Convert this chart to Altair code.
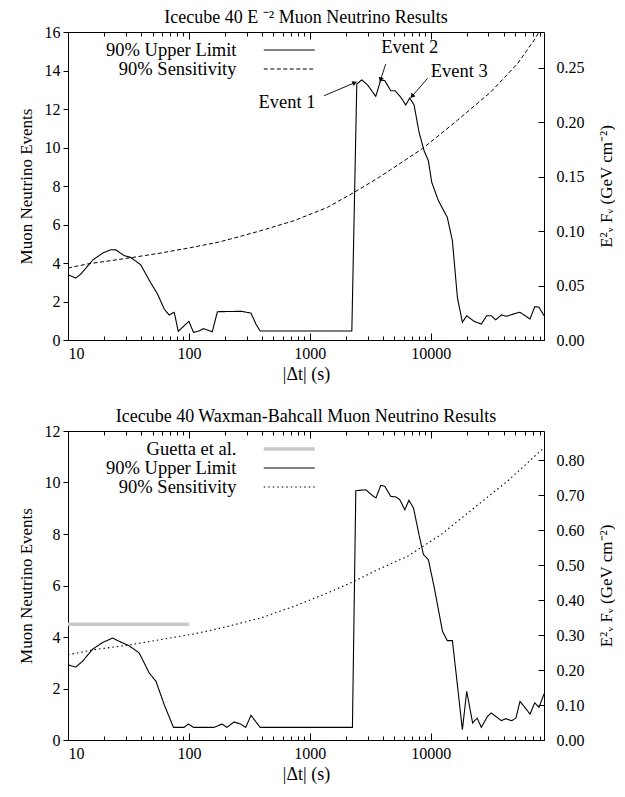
import altair as alt
import pandas as pd

FONT = "Liberation Serif"

# ---------------- data ----------------
MAJOR = [10, 100, 1000, 10000]
MINOR = [20, 30, 40, 50, 60, 70, 80, 90, 200, 300, 400, 500, 600, 700, 800, 900,
         2000, 3000, 4000, 5000, 6000, 7000, 8000, 9000, 20000, 30000, 40000, 50000,
         60000, 70000, 80000]

top_ul_t = [10, 11.6, 12.8, 16, 19.4, 22.6, 24.9, 29.2, 33, 40, 48, 55, 62.5, 68.6, 75.6, 81.6,
            100, 109, 119, 132, 156, 172, 270, 326, 358, 388, 2225, 2445, 2690, 3000, 3510,
            3860, 4170, 4670, 5070, 5650, 6210, 6700, 7280, 8000, 8810, 9560, 10190, 11570,
            13700, 15100, 16600, 18260, 19830, 22800, 26200, 29000, 31700, 34400, 38400,
            42400, 48200, 54700, 66200, 72400, 78600, 86400]
top_ul_v = [3.39, 3.22, 3.43, 4.15, 4.52, 4.69, 4.68, 4.38, 4.29, 3.9, 3.0, 2.39, 1.61, 1.30,
            1.44, 0.45, 0.97, 0.40, 0.45, 0.59, 0.43, 1.47, 1.49, 1.40, 0.83, 0.47, 0.47,
            13.30, 13.51, 13.25, 12.66, 13.51, 13.47, 12.95, 12.95, 12.61, 12.21, 12.57,
            12.21, 10.79, 9.83, 9.31, 8.19, 7.24, 6.37, 5.16, 2.22, 0.92, 1.26, 0.97, 0.83,
            1.26, 1.26, 1.05, 1.30, 1.23, 1.35, 1.44, 1.09, 1.73, 1.70, 1.26]

top_sens_t = [10, 14.5, 32, 58.7, 100, 172, 269, 394, 742, 1400, 2323, 3630, 4670, 8530,
              16600, 31300, 52100, 71500, 78600]
top_sens_v = [3.74, 3.95, 4.26, 4.52, 4.78, 5.07, 5.39, 5.68, 6.20, 6.89, 7.67, 8.40, 8.85,
              9.94, 11.41, 12.88, 14.35, 15.57, 16.0]

bot_ul_t = [10, 11.6, 13.2, 16, 19.4, 23.4, 26.5, 32, 38.8, 47, 53.4, 62.5, 74.5, 91, 99, 109,
            161, 188, 206, 236, 268, 295, 326, 388, 2250, 2400, 2900, 3300, 3520, 3860, 4170,
            4670, 5140, 5550, 6100, 6600, 7200, 8000, 8700, 9560, 10640, 12500, 13700, 15100,
            16600, 18260, 19830, 22200, 24200, 26200, 29500, 31700, 34400, 38400, 41700,
            46600, 50600, 54700, 66200, 72400, 78600, 86400]
bot_ul_v = [2.92, 2.83, 3.06, 3.53, 3.79, 3.96, 3.83, 3.66, 3.38, 2.60, 2.28, 1.37, 0.49, 0.49,
            0.62, 0.49, 0.49, 0.62, 0.49, 0.70, 0.62, 0.49, 0.96, 0.49, 0.49, 9.68, 9.72, 9.49,
            9.40, 9.89, 9.85, 9.46, 9.44, 9.33, 8.94, 9.31, 9.01, 7.97, 7.20, 7.00, 5.97, 4.22,
            3.86, 3.86, 2.15, 0.40, 1.89, 0.66, 0.85, 0.49, 0.92, 1.05, 0.92, 0.75, 0.83, 0.75,
            0.85, 1.50, 1.01, 1.44, 1.27, 1.79]

bot_sens_t = [10, 16.5, 31.1, 58.7, 111, 209, 394, 742, 1400, 2323, 3400, 6410, 12100, 22800,
              43000, 63000, 86400]
bot_sens_v = [3.31, 3.51, 3.68, 3.90, 4.12, 4.41, 4.74, 5.19, 5.71, 6.16, 6.55, 7.13, 7.97,
              9.01, 10.05, 10.76, 11.35]

guetta_t = [10, 100]
guetta_v = [4.5, 4.5]

top_left_ticks = [0, 2, 4, 6, 8, 10, 12, 14, 16]
top_right_ticks = [0.0, 0.05, 0.10, 0.15, 0.20, 0.25]
top_right_max = 0.2826
bot_left_ticks = [0, 2, 4, 6, 8, 10, 12]
bot_right_ticks = [0.0, 0.1, 0.2, 0.3, 0.4, 0.5, 0.6, 0.7, 0.8]
bot_right_max = 0.883

event_labels = ["Event 1", "Event 2", "Event 3"]
event_text_t = [646, 6700, 17200]
event_text_v = [12.36, 15.22, 13.95]
arrow_tail_t = [1312, 4246, 9400]
arrow_tail_v = [12.69, 14.34, 13.59]
arrow_head_t = [2322, 3862, 7063]
arrow_head_v = [13.35, 13.56, 12.69]
arrow_angle = [67, 198, 221]

X_DOMAIN = [10, 86400]
RTITLE = "E\u00b2\u1d65 F\u1d65 (GeV cm\u207b\u00b2)"
LEGEND_LINE = "M-5.1,0H5.1"   # wide line sample for the legend symbols


def long_df(series):
    rows = []
    for name, ts, vs in series:
        for t, v in zip(ts, vs):
            rows.append({"series": name, "t": t, "v": v})
    return pd.DataFrame(rows)


def panel(title, series, names, colors, widths, dashes, ymax, yticks, rmax, rticks,
          height, legend_x, legend_y, row_pad, events=False):
    xs = alt.Scale(type="log", domain=X_DOMAIN, nice=False)
    ys = alt.Scale(domain=[0, ymax], nice=False)
    k = rmax / ymax  # flux per event (secondary axis)
    rvals = [f / k for f in rticks]
    leg = alt.Legend(orient="none", legendX=legend_x, legendY=legend_y, title=None,
                     symbolType=LEGEND_LINE, symbolSize=100, labelAlign="right",
                     symbolOffset=170, labelOffset={"expr": "-62"}, labelFontSize=18.5,
                     labelFont=FONT, rowPadding={"expr": str(row_pad)}, padding=0,
                     labelLimit=0, labelColor="black")
    lines = alt.Chart(long_df(series)).mark_line().encode(
        x=alt.X("t:Q", scale=xs,
                axis=alt.Axis(orient="bottom", values=MAJOR, format="d", ticks=False,
                              domain=False, labelPadding=5, title="|\u0394t|  (s)",
                              titleFontSize=18, titlePadding=4)),
        y=alt.Y("v:Q", scale=ys,
                axis=alt.Axis(orient="left", values=yticks, tickSize=5, domain=False,
                              labelPadding=3, title="Muon Neutrino Events",
                              titlePadding=9)),
        color=alt.Color("series:N", scale=alt.Scale(domain=names, range=colors), legend=leg),
        strokeDash=alt.StrokeDash("series:N", scale=alt.Scale(domain=names, range=dashes),
                                  legend=leg),
        strokeWidth=alt.StrokeWidth("series:N",
                                    scale=alt.Scale(type="ordinal", domain=names,
                                                    range=widths),
                                    legend=leg),
    )

    def xtick_layer(orient, size, vals):
        d = pd.DataFrame({"t": vals, "v": [0] * len(vals)})
        return alt.Chart(d).mark_point(opacity=0).encode(
            x=alt.X("t:Q", scale=xs,
                    axis=alt.Axis(orient=orient, offset=-size, tickSize=size, labels=False,
                                  domain=False, values=vals, title=None)),
            y=alt.Y("v:Q", scale=ys, axis=None))

    lab_expr = f"format(datum.value * {k}, '.2f')"
    rdf = pd.DataFrame({"t": [X_DOMAIN[0]] * len(rvals), "f": rvals})
    right_lab = alt.Chart(rdf).mark_point(opacity=0).encode(
        x=alt.X("t:Q", scale=xs, axis=None),
        y=alt.Y("f:Q", scale=ys,
                axis=alt.Axis(orient="right", values=rvals, labelExpr=lab_expr, ticks=False,
                              domain=False, labelPadding=12, title=RTITLE, titleAngle=270,
                              titleBaseline="top", titlePadding=14)))
    right_tick = alt.Chart(rdf).mark_point(opacity=0).encode(
        x=alt.X("t:Q", scale=xs, axis=None),
        y=alt.Y("f:Q", scale=ys,
                axis=alt.Axis(orient="right", offset=-6, tickSize=6, values=rvals,
                              labels=False, domain=False, title=None)))

    layers = [lines,
              xtick_layer("bottom", 7, MAJOR), xtick_layer("bottom", 4, MINOR),
              xtick_layer("top", 7, MAJOR), xtick_layer("top", 4, MINOR),
              right_lab, right_tick]

    if events:
        ev = pd.DataFrame({"label": event_labels, "tt": event_text_t, "tv": event_text_v,
                           "t0": arrow_tail_t, "v0": arrow_tail_v,
                           "t1": arrow_head_t, "v1": arrow_head_v, "ang": arrow_angle})
        txt = alt.Chart(ev).mark_text(font=FONT, fontSize=18.5, color="black",
                                      baseline="middle").encode(
            x=alt.X("tt:Q", scale=xs, axis=None),
            y=alt.Y("tv:Q", scale=ys, axis=None),
            text="label:N")
        arr = alt.Chart(ev).mark_rule(color="black", strokeWidth=0.9).encode(
            x=alt.X("t0:Q", scale=xs, axis=None), x2="t1:Q",
            y=alt.Y("v0:Q", scale=ys, axis=None), y2="v1:Q")
        heads = alt.Chart(ev).mark_point(shape="triangle", filled=True, size=28,
                                         color="black", opacity=1).encode(
            x=alt.X("t1:Q", scale=xs, axis=None),
            y=alt.Y("v1:Q", scale=ys, axis=None),
            angle=alt.Angle("ang:Q", scale=None))
        layers += [txt, arr, heads]

    return alt.layer(*layers).resolve_axis(
        x="independent", y="independent").properties(
        width=476, height=height,
        title=alt.Title(title, font=FONT, fontSize=18, fontWeight="normal",
                        color="black", offset={"expr": "-3"}))


top = panel("Icecube 40 E \u207b\u00b2 Muon Neutrino Results",
            [("90% Upper Limit", top_ul_t, top_ul_v),
             ("90% Sensitivity", top_sens_t, top_sens_v)],
            ["90% Upper Limit", "90% Sensitivity"], ["black", "black"], [1.1, 1.0],
            [[1, 0], [4, 2.5]], 16, top_left_ticks, top_right_max, top_right_ticks, 308,
            42, 8.75, -0.5, events=True)

bottom = panel("Icecube 40 Waxman-Bahcall Muon Neutrino Results",
               [("Guetta et al.", guetta_t, guetta_v),
                ("90% Upper Limit", bot_ul_t, bot_ul_v),
                ("90% Sensitivity", bot_sens_t, bot_sens_v)],
               ["Guetta et al.", "90% Upper Limit", "90% Sensitivity"],
               ["#c8c8c8", "black", "black"], [3.5, 1.1, 1.1],
               [[1, 0], [1, 0], [1.5, 3]], 12, bot_left_ticks, bot_right_max,
               bot_right_ticks, 309, 42, 8.75, -0.5)

chart = alt.vconcat(top, bottom, spacing=23).resolve_scale(
    color="independent", strokeDash="independent", strokeWidth="independent"
).properties(
    padding={"left": 8, "right": 0, "top": 0, "bottom": 0}
).configure(font=FONT).configure_view(stroke="black", strokeWidth=1).configure_axis(
    labelFont=FONT, titleFont=FONT, labelFontSize=16, titleFontSize=17, labelColor="black",
    titleColor="black", tickColor="black", tickWidth=1, titleFontWeight="normal", grid=False)

chart.save("out.html", embed_options={"renderer": "svg", "actions": False})
